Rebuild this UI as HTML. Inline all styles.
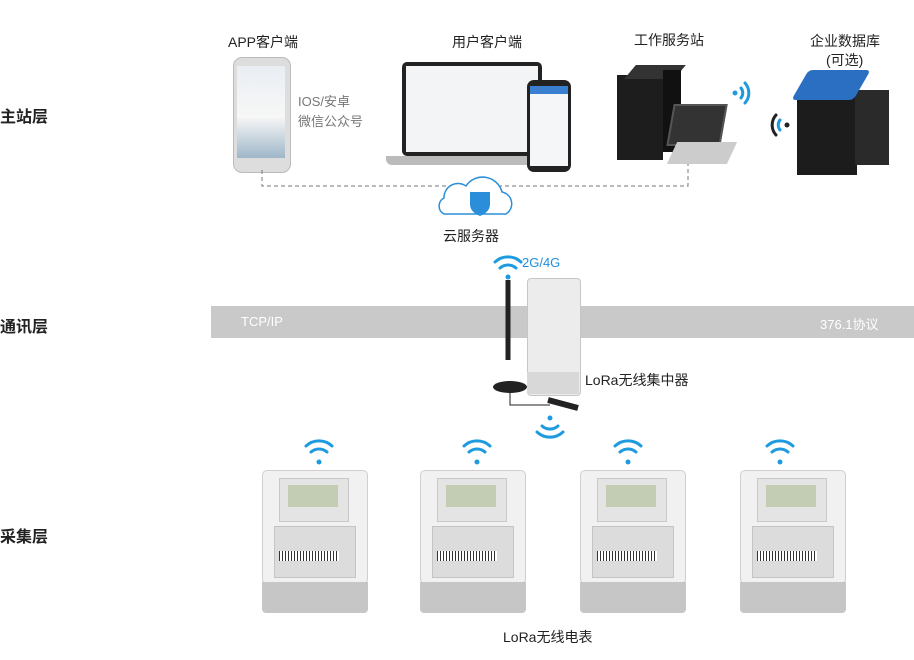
<!DOCTYPE html>
<html><head><meta charset="utf-8"><style>
body{margin:0;width:914px;height:660px;background:#fff;position:relative;overflow:hidden;font-family:"Liberation Sans","Noto Sans CJK SC",sans-serif;color:#222}
.a{position:absolute}
.lbl{font-size:16px;font-weight:bold;color:#222}
.t{font-size:14px;color:#222;white-space:nowrap}
</style></head><body>
<div class="a lbl" style="left:0;top:103px">主站层</div>
<div class="a lbl" style="left:0;top:313px">通讯层</div>
<div class="a lbl" style="left:0;top:523px">采集层</div>

<div class="a" style="left:211px;top:306px;width:703px;height:32px;background:#c9c9c9"></div>
<div class="a t" style="left:241px;top:314px;color:#fff;font-size:13px">TCP/IP</div>
<div class="a t" style="left:820px;top:314px;color:#fff;font-size:13px">376.1协议</div>

<div class="a t" style="left:228px;top:32px">APP客户端</div>
<div class="a t" style="left:452px;top:32px">用户客户端</div>
<div class="a t" style="left:634px;top:30px">工作服务站</div>
<div class="a t" style="left:810px;top:31px">企业数据库</div>
<div class="a t" style="left:826px;top:50px">(可选)</div>
<div class="a t" style="left:298px;top:91px;color:#777;font-size:13px">IOS/安卓</div>
<div class="a t" style="left:298px;top:111px;color:#777;font-size:13px">微信公众号</div>
<div class="a t" style="left:443px;top:226px">云服务器</div>

<div class="a" style="left:233px;top:57px;width:56px;height:114px;background:#ddd;border-radius:9px;border:1px solid #bbb"></div>
<div class="a" style="left:237px;top:66px;width:48px;height:92px;background:linear-gradient(#e9eef3,#f7f7f7 55%,#9fb7c9)"></div>
<div class="a" style="left:402px;top:62px;width:140px;height:94px;background:#222;border-radius:5px"></div>
<div class="a" style="left:406px;top:66px;width:132px;height:86px;background:#f2f4f6"></div>
<div class="a" style="left:386px;top:156px;width:172px;height:9px;background:#bbb;border-radius:0 0 6px 6px"></div>
<div class="a" style="left:527px;top:80px;width:44px;height:92px;background:#222;border-radius:7px"></div>
<div class="a" style="left:530px;top:86px;width:38px;height:80px;background:#f4f6f8"></div>
<div class="a" style="left:530px;top:86px;width:38px;height:8px;background:#3a7fd0"></div>
<div class="a" style="left:617px;top:75px;width:46px;height:85px;background:#1d1d1d"></div>
<div class="a" style="left:630px;top:65px;width:50px;height:14px;background:#333;transform:skewX(-40deg)"></div>
<div class="a" style="left:663px;top:70px;width:18px;height:82px;background:#111"></div>
<div class="a" style="left:670px;top:104px;width:50px;height:38px;background:#333;transform:skewX(-10deg);border:2px solid #555"></div>
<div class="a" style="left:672px;top:142px;width:60px;height:22px;background:#ccc;transform:skewX(-25deg)"></div>
<div class="a" style="left:797px;top:95px;width:60px;height:80px;background:#1c1c1c"></div>
<div class="a" style="left:855px;top:90px;width:34px;height:75px;background:#2a2a2a"></div>
<div class="a" style="left:800px;top:70px;width:62px;height:30px;background:#2b6fc2;transform:skewX(-30deg);border-radius:4px"></div>

<svg class="a" style="left:0;top:0" width="914" height="660">
<g fill="none" stroke="#777" stroke-dasharray="4,3"><path d="M262 170V186H688V164"/></g>
<path d="M444 214h62a12 12 0 0 0-4-22a20 20 0 0 0-36-6a14 14 0 0 0-22 12a9 9 0 0 0 0 16z" fill="#fff" stroke="#2a8fd8" stroke-width="1.5"/>
<path d="M470 192h20v12q0 8-10 12q-10-4-10-12z" fill="#2a8fd8"/>
<g fill="none" stroke="#1e9be0" stroke-width="3" stroke-linecap="round">
<path d="M311 452a12 12 0 0 1 16 0"/><path d="M306 446a19 19 0 0 1 26 0"/>
<path d="M469 452a12 12 0 0 1 16 0"/><path d="M464 446a19 19 0 0 1 26 0"/>
<path d="M620 452a12 12 0 0 1 16 0"/><path d="M615 446a19 19 0 0 1 26 0"/>
<path d="M772 452a12 12 0 0 1 16 0"/><path d="M767 446a19 19 0 0 1 26 0"/>
<path d="M500 268a12 12 0 0 1 16 0"/><path d="M495 262a19 19 0 0 1 26 0"/>
<path d="M542 426a12 12 0 0 0 16 0"/><path d="M537 432a19 19 0 0 0 26 0"/>
<path d="M741 88a8 8 0 0 1 0 10"/><path d="M745 83a15 15 0 0 1 0 20"/>
<path d="M780 120a8 8 0 0 0 0 10"/><path d="M776 115a15 15 0 0 0 0 20" stroke="#222"/>
</g>
<circle cx="319" cy="462" r="2.5" fill="#1e9be0"/><circle cx="477" cy="462" r="2.5" fill="#1e9be0"/><circle cx="628" cy="462" r="2.5" fill="#1e9be0"/><circle cx="780" cy="462" r="2.5" fill="#1e9be0"/><circle cx="508" cy="277" r="2.5" fill="#1e9be0"/><circle cx="550" cy="418" r="2.5" fill="#1e9be0"/><circle cx="735" cy="93" r="2.5" fill="#1e9be0"/><circle cx="787" cy="125" r="2.5" fill="#222"/>
<path d="M508 280v80" stroke="#222" stroke-width="5"/>
<ellipse cx="510" cy="387" rx="17" ry="6" fill="#222"/>
<path d="M510 387v18h40" stroke="#222" fill="none"/>
<path d="M548 400l30 8" stroke="#222" stroke-width="6"/>
</svg>
<div class="a t" style="left:522px;top:255px;color:#1e8fe0;font-size:13px">2G/4G</div>
<div class="a" style="left:527px;top:278px;width:52px;height:116px;background:#ececec;border:1px solid #c6c6c6;border-radius:4px"></div>
<div class="a" style="left:527px;top:372px;width:52px;height:22px;background:#d8d8d8"></div>
<div class="a t" style="left:585px;top:370px">LoRa无线集中器</div>

<div class="a t" style="left:503px;top:627px">LoRa无线电表</div>

<div id="m"></div>
<script>
var xs=[262,420,580,740],h='';
xs.forEach(function(x){
h+='<div class="a" style="left:'+x+'px;top:470px;width:104px;height:112px;background:#f1f1f1;border:1px solid #cfcfcf;border-radius:5px"></div>'+
'<div class="a" style="left:'+(x+17)+'px;top:478px;width:68px;height:42px;background:#e4e4e4;border:1px solid #c8c8c8"></div>'+
'<div class="a" style="left:'+(x+26)+'px;top:485px;width:50px;height:22px;background:#c3cdb3"></div>'+
'<div class="a" style="left:'+(x+12)+'px;top:526px;width:80px;height:50px;background:#dcdcdc;border:1px solid #c4c4c4"></div>'+
'<div class="a" style="left:'+(x+17)+'px;top:551px;width:60px;height:10px;background:repeating-linear-gradient(90deg,#333 0 1px,#fff 1px 3px)"></div>'+
'<div class="a" style="left:'+x+'px;top:582px;width:106px;height:31px;background:#c6c6c6;border-radius:0 0 4px 4px"></div>';
});
document.getElementById('m').outerHTML=h;
</script>
</body></html>
